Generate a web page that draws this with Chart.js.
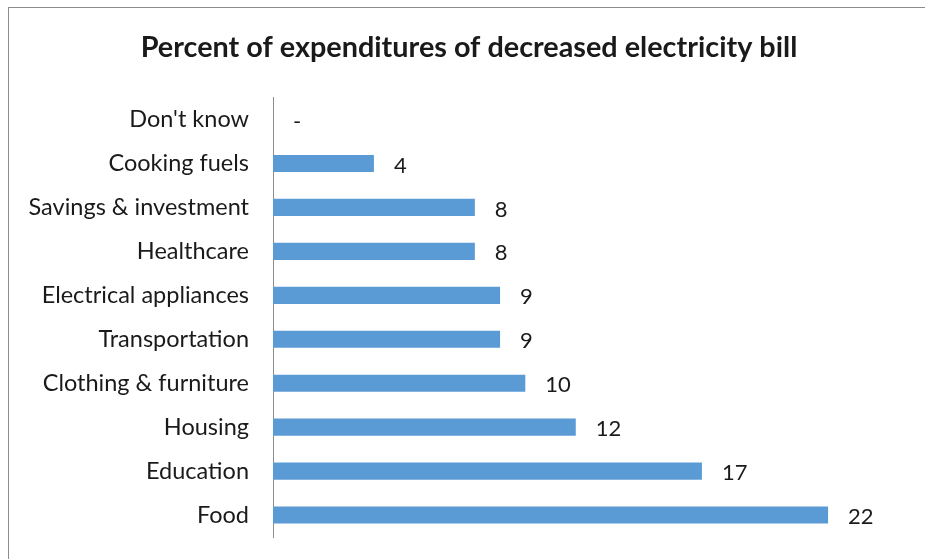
<!DOCTYPE html>
<html>
<head>
<meta charset="utf-8">
<script src="https://cdn.jsdelivr.net/npm/chart.js@4.4.1/dist/chart.umd.min.js"></script>
<style>
html, body { margin: 0; padding: 0; background: #fff; overflow: hidden; }
#box {
  position: absolute; left: 8px; top: 7px;
  width: 927px; height: 560px;
  border-top: 1px solid #8c8c8c; border-left: 1px solid #8c8c8c;
}
#box canvas { display: block; }
</style>
</head>
<body>
<div id="box"><canvas id="mainChart" width="927" height="551"></canvas></div>
<script>
let categories = ["Don't know", "Cooking fuels", "Savings & investment", "Healthcare",
  "Electrical appliances", "Transportation", "Clothing & furniture", "Housing",
  "Education", "Food"];
let percents = [0, 4, 8, 8, 9, 9, 10, 12, 17, 22];

let fontFamily = "Lato, 'Open Sans', sans-serif";
let textColor = "#1a1a1a";

// value text to the right of each bar, "-" for an empty bar
let barValues = {
  id: "barValues",
  afterDatasetsDraw(chart){
    let ctx = chart.ctx;
    let meta = chart.getDatasetMeta(0);
    ctx.save();
    ctx.font = "22px " + fontFamily;
    ctx.fillStyle = textColor;
    ctx.textAlign = "left";
    ctx.textBaseline = "middle";
    meta.data.forEach((bar, i) => {
      let v = percents[i];
      ctx.fillText(v === 0 ? "-" : String(v), bar.x + 20, bar.y + 2);
    });
    ctx.restore();
  }
};

let mainChart = new Chart(document.getElementById("mainChart"), {
  type: "bar",
  data: {
    labels: categories,
    datasets: [{
      data: percents,
      backgroundColor: "#5b9bd5",
      borderWidth: 0,
      categoryPercentage: 1,
      barPercentage: 0.39
    }]
  },
  options: {
    indexAxis: "y",
    responsive: false,
    animation: false,
    layout: { padding: { left: 0, right: 7, top: 0, bottom: 22 } },
    plugins: {
      legend: { display: false },
      tooltip: { enabled: false },
      title: {
        display: true,
        text: "Percent of expenditures of decreased electricity bill",
        color: textColor,
        font: { family: fontFamily, size: 28.8, weight: "bold", lineHeight: 1.2 },
        padding: { top: 22, bottom: 33 }
      }
    },
    scales: {
      x: {
        display: false,
        min: 0,
        max: 26
      },
      y: {
        afterFit(axis){
          axis.width = 264;
          axis.paddingTop = 0;
          axis.paddingBottom = 0;
        },
        grid: { display: false, drawTicks: false },
        border: { display: true, color: "#8c8c8c", width: 1 },
        ticks: {
          color: textColor,
          padding: 24,
          font: { family: fontFamily, size: 23.5 }
        }
      }
    }
  },
  plugins: [barValues]
});
</script>
</body>
</html>
